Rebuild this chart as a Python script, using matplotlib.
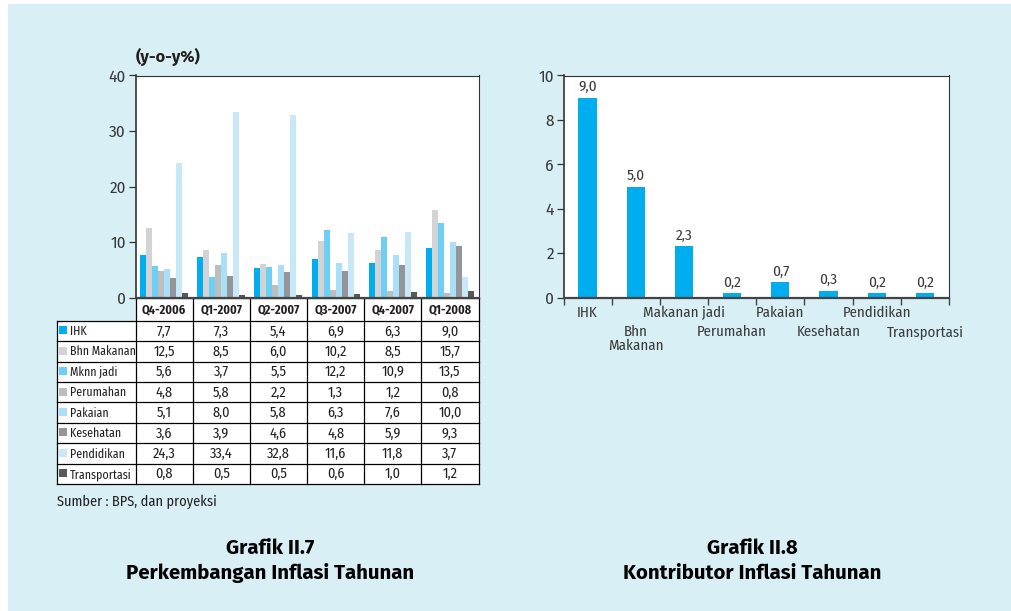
import matplotlib
matplotlib.use("Agg")
import matplotlib.pyplot as plt
from matplotlib.patches import Rectangle
import numpy as np

COND = ['Fira Sans Condensed', 'Liberation Sans', 'DejaVu Sans']
HEAD = ['Fira Sans', 'Liberation Sans', 'DejaVu Sans']
plt.rcParams['font.family'] = COND

# ---- data: annual inflation by component (y-o-y %) ----
quarters = ["Q4-2006", "Q1-2007", "Q2-2007", "Q3-2007", "Q4-2007", "Q1-2008"]
components = ["IHK", "Bhn Makanan", "Mknn jadi", "Perumahan",
              "Pakaian", "Kesehatan", "Pendidikan", "Transportasi"]
ihk = [7.7, 7.3, 5.4, 6.9, 6.3, 9.0]
bhn_makanan = [12.5, 8.5, 6.0, 10.2, 8.5, 15.7]
mknn_jadi = [5.6, 3.7, 5.5, 12.2, 10.9, 13.5]
perumahan = [4.8, 5.8, 2.2, 1.3, 1.2, 0.8]
pakaian = [5.1, 8.0, 5.8, 6.3, 7.6, 10.0]
kesehatan = [3.6, 3.9, 4.6, 4.8, 5.9, 9.3]
pendidikan = [24.3, 33.4, 32.8, 11.6, 11.8, 3.7]
transportasi = [0.8, 0.5, 0.5, 0.6, 1.0, 1.2]
series = [ihk, bhn_makanan, mknn_jadi, perumahan,
          pakaian, kesehatan, pendidikan, transportasi]
left_yticks = [0, 10, 20, 30, 40]

# ---- data: contributors to annual inflation ----
contrib_labels = ["IHK", "Bhn\nMakanan", "Makanan jadi", "Perumahan",
                  "Pakaian", "Kesehatan", "Pendidikan", "Transportasi"]
contrib_values = [9.0, 5.0, 2.3, 0.2, 0.7, 0.3, 0.2, 0.2]
right_yticks = [0, 2, 4, 6, 8, 10]

colors = ["#00aeef", "#d1d3d4", "#6dcff6", "#bcbec0",
          "#a9e0f7", "#939598", "#c8e8f8", "#58595b"]
BG = "#d8eff6"
TXT = "#231f20"
TICK = "#3a3a3a"

W, H = 1011, 611
fig = plt.figure(figsize=(W / 100, H / 100), dpi=100)

# full-figure canvas in pixel coordinates
canvas = fig.add_axes([0, 0, 1, 1])
canvas.set_xlim(0, W)
canvas.set_ylim(H, 0)
canvas.axis("off")
canvas.add_patch(Rectangle((8, 4), W - 8, H - 4, facecolor=BG, edgecolor="none"))


def px_axes(x0, y0, x1, y1):
    return fig.add_axes([x0 / W, 1 - y1 / H, (x1 - x0) / W, (y1 - y0) / H])


def style_value_axis(ax, ticks):
    ax.set_yticks(ticks)
    ax.set_yticklabels([str(v) for v in ticks], fontsize=12.3, color=TICK)
    ax.tick_params(axis="y", direction="out", length=5, width=0.9,
                   color="#333333", pad=2)
    for s in ["top", "right"]:
        ax.spines[s].set_linewidth(0.8)
        ax.spines[s].set_color("#333333")
    ax.spines["left"].set_linewidth(1.2)
    ax.spines["left"].set_color("#333333")
    ax.spines["bottom"].set_linewidth(1.6)
    ax.spines["bottom"].set_color("#444444")


def fmt(v):
    return f"{v:.1f}".replace(".", ",")


# ---------------- left chart ----------------
LX0, LX1, LY0, LY1 = 135.5, 478.5, 75.5, 297.5
axl = px_axes(LX0, LY0, LX1, LY1)
axl.set_facecolor("white")
n = len(series)
bw = 0.105
x = np.arange(len(quarters))
for j, (vals, c) in enumerate(zip(series, colors)):
    axl.bar(x + (j - (n - 1) / 2) * bw, vals, bw, color=c, linewidth=0)
axl.set_xlim(-0.5, len(quarters) - 0.5)
axl.set_ylim(0, 40)
axl.set_xticks([])
style_value_axis(axl, left_yticks)
canvas.text(136, 57, "(y-o-y%)", fontsize=11.8, fontweight="bold", color=TXT,
            family=HEAD, ha="left", va="center")

# ---- table below the left chart ----
col_edges = np.linspace(LX0, LX1, len(quarters) + 1)
TX0 = 57
head_top, head_bot = LY1, 320.7
row_h = (484 - head_bot) / n
rows = [head_bot + i * row_h for i in range(n + 1)]
canvas.add_patch(Rectangle((LX0, head_top), LX1 - LX0, head_bot - head_top,
                           facecolor="white", edgecolor="none"))
canvas.add_patch(Rectangle((TX0, head_bot), LX1 - TX0, rows[-1] - head_bot,
                           facecolor="white", edgecolor="none"))
lw = 0.9
for yv in rows:
    canvas.plot([TX0, LX1], [yv, yv], color="black", lw=lw)
canvas.plot([LX0, LX1], [head_top, head_top], color="black", lw=lw)
canvas.plot([TX0, TX0], [head_bot, rows[-1]], color="black", lw=lw)
for xe in col_edges:
    canvas.plot([xe, xe], [head_top, rows[-1]], color="black", lw=lw)
for i, q in enumerate(quarters):
    cx = (col_edges[i] + col_edges[i + 1]) / 2
    canvas.text(cx, (head_top + head_bot) / 2 + 1, q, fontsize=8.8,
                fontweight="bold", color=TXT, ha="center", va="center")
for r, (name, vals, c) in enumerate(zip(components, series, colors)):
    cy = (rows[r] + rows[r + 1]) / 2
    canvas.add_patch(Rectangle((59, cy - 4.5), 8, 8, facecolor=c, edgecolor="none"))
    canvas.text(70, cy + 0.5, name, fontsize=8.6, color=TXT,
                ha="left", va="center")
    for i, v in enumerate(vals):
        cx = (col_edges[i] + col_edges[i + 1]) / 2
        canvas.text(cx, cy + 0.5, fmt(v), fontsize=10.3,
                    color=TXT, ha="center", va="center")
canvas.text(57, 502, "Sumber : BPS, dan proyeksi", fontsize=10.3,
            color=TXT, ha="left", va="center")

# ---------------- right chart ----------------
RX0, RX1 = 563.5, 949
axr = px_axes(RX0, LY0, RX1, LY1)
axr.set_facecolor("white")
xr = np.arange(len(contrib_values))
axr.bar(xr, contrib_values, 0.38, color="#00aeef", linewidth=0)
axr.set_xlim(-0.5, len(contrib_values) - 0.5)
axr.set_ylim(0, 10)
style_value_axis(axr, right_yticks)
axr.set_xticks(np.arange(len(contrib_values) + 1) - 0.5)
axr.set_xticklabels([])
axr.tick_params(axis="x", direction="out", length=5, width=1.0, color="#444444")
for i, v in enumerate(contrib_values):
    axr.annotate(fmt(v), (i, v), xytext=(0, 2.5), textcoords="offset points",
                 ha="center", va="bottom", fontsize=11, color=TICK)
xt = axr.get_xaxis_transform()
for i, lab in enumerate(contrib_labels):
    dy = -8 if i % 2 == 0 else -27
    axr.annotate(lab, (i, 0), xycoords=xt, xytext=(0, dy * 0.72),
                 textcoords="offset points", ha="center", va="top",
                 fontsize=10.7, color=TICK, linespacing=1.0)

# ---------------- captions ----------------
for cx, l1, l2 in [(270, "Grafik II.7", "Perkembangan Inflasi Tahunan"),
                   (752, "Grafik II.8", "Kontributor Inflasi Tahunan")]:
    canvas.text(cx, 548, l1, fontsize=14.7, fontweight="bold", color="black",
                family=HEAD, ha="center", va="center")
    canvas.text(cx, 573, l2, fontsize=14.7, fontweight="bold", color="black",
                family=HEAD, ha="center", va="center")

fig.savefig("out.png", dpi=100)
